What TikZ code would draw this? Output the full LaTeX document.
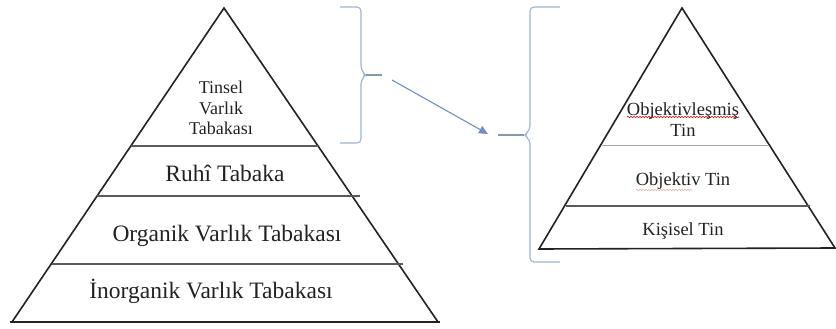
\documentclass[tikz,border=0pt]{standalone}
\usepackage{fontspec}
\setmainfont{Liberation Serif}
\usetikzlibrary{arrows.meta,decorations.pathmorphing}
\definecolor{bracecol}{HTML}{9DB3CF}
\definecolor{arrowcol}{HTML}{6F8FC0}
\definecolor{inkcol}{HTML}{222222}
\begin{document}
\begin{tikzpicture}[x=1pt,y=-1pt,
  edge/.style={line width=1.6pt, draw=inkcol, line join=miter},
  baseline/.style={line width=2.4pt, draw=inkcol},
  layer/.style={line width=1.1pt, draw=black!65},
  thinlayer/.style={line width=0.9pt, draw=black!35},
  bracket/.style={line width=1.1pt, draw=bracecol, rounded corners=4pt},
  big/.style={font=\fontsize{23.5}{27}\selectfont, text=inkcol, inner sep=0pt},
  small/.style={font=\fontsize{18}{20.5}\selectfont, text=inkcol, inner sep=0pt, align=center},
  mid/.style={font=\fontsize{18.5}{21}\selectfont, text=inkcol, inner sep=0pt, align=center},
  spell/.style={draw=red!75!black, line width=0.6pt, decorate,
    decoration={snake, amplitude=0.6pt, segment length=3pt}}
]
\useasboundingbox (0,0) rectangle (836,329);

% ---- left pyramid: layers of being ----
\coordinate (LA) at (224,8);
\coordinate (LL) at (12,322);
\coordinate (LR) at (438,322);
\draw[edge] (LL) -- (LA) -- (LR);
\draw[baseline] (10,322) -- (440,322);
\draw[layer] (131,146) -- (318,146);
\draw[layer] (97,196) -- (360,196);
\draw[layer] (52,264) -- (403,264);

\node[small] (tinsel) at (221,108) {Tinsel\\Varlık\\Tabakası};
\node[big] (ruhi) at (225,173) {Ruhî Tabaka};
\node[big] (organik) at (227,236) {Organik Varlık Tabakası};
\node[big] (inorganik) at (211,291) {İnorganik Varlık Tabakası};

% ---- right pyramid: forms of spirit ----
\coordinate (RA) at (682,8);
\coordinate (RL) at (539,249);
\coordinate (RR) at (835,248);
\draw[edge] (RL) -- (RA) -- (RR) -- cycle;
\draw[thinlayer] (602,145) -- (768,145);
\draw[layer] (566,206) -- (810,206);

\node[mid] (objl) at (683,120) {Objektivleşmiş\\Tin};
\node[mid] (obj) at (683,181) {Objektiv Tin};
\node[mid] (kis) at (683,231) {Kişisel Tin};
\draw[spell] (627,117) -- (739,117);
\draw[spell, draw opacity=0.35] (636,190) -- (692,190);

% ---- braces and the arrow between them ----
\draw[bracket] (340,7) -- (361,7) -- (361,70) -- (366,75) -- (361,80) -- (361,143) -- (340,143);
\coordinate (ltip) at (366,75);
\coordinate (lend) at (382,75);
\draw[line width=1.1pt, draw=bracecol!85!black] (ltip) -- (lend);

\draw[bracket] (560,7) -- (530,7) -- (530,130) -- (524,135) -- (530,140) -- (530,262) -- (560,262);
\coordinate (rtip) at (524,135);
\coordinate (rend) at (498,135);
\draw[line width=1.1pt, draw=bracecol!85!black] (rtip) -- (rend);

\coordinate (astart) at (392,80);
\coordinate (aend) at (488,134);
\draw[line width=1.1pt, draw=arrowcol, -{Triangle[length=9pt,width=8pt]}] (astart) -- (aend);
\end{tikzpicture}
\end{document}
